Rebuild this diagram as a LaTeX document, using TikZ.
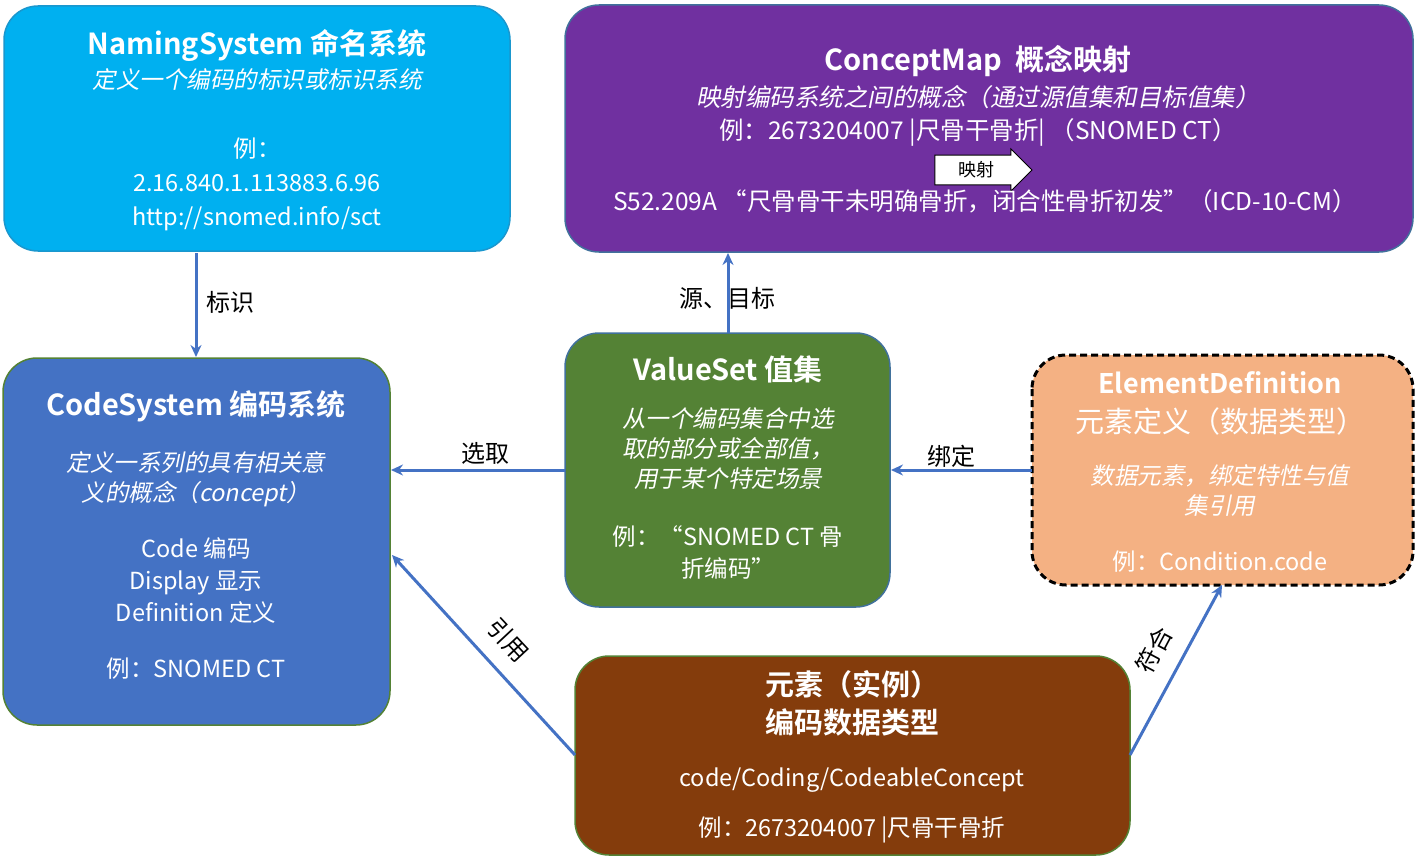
\documentclass[tikz,border=0pt]{standalone}
\usepackage{fontspec}
\setmainfont{Noto Sans CJK SC}[BoldFont={Noto Sans CJK SC Bold},ItalicFont={Noto Sans CJK SC},ItalicFeatures={FakeSlant=0.2},BoldItalicFont={Noto Sans CJK SC Bold},BoldItalicFeatures={FakeSlant=0.2}]
\usetikzlibrary{shapes.arrows,arrows.meta}
\definecolor{cyanb}{HTML}{00B0F0}
\definecolor{purp}{HTML}{7030A0}
\definecolor{blueb}{HTML}{4472C4}
\definecolor{greenb}{HTML}{548235}
\definecolor{peach}{HTML}{F4B183}
\definecolor{brown}{HTML}{843C0C}
\definecolor{edge}{HTML}{41719C}
\begin{document}
\begin{tikzpicture}[x=1pt,y=-1pt,
 box/.style={rounded corners=34pt,line width=1.5pt},
 txt/.style={align=center,font=\fontsize{23.5}{34}\selectfont,text=white},
 ttl/.style={align=center,font=\fontsize{27}{34}\selectfont\bfseries,text=white},
 conn/.style={draw=blueb,line width=3pt,-{Stealth[length=12pt,width=11pt]}},
 lab/.style={font=\fontsize{24}{26}\selectfont,text=black,inner sep=1pt}]
\useasboundingbox (0,0) rectangle (1417,859);
\draw[box,fill=cyanb,draw=edge!40!cyanb] (4,6) rectangle (510,251);
\draw[box,fill=purp,draw=edge] (565,5) rectangle (1413,252);
\draw[box,fill=blueb,draw=greenb] (3,358) rectangle (390,725);
\draw[box,fill=greenb,draw=edge] (565,333) rectangle (890,607);
\draw[box,fill=peach,draw=black,line width=3pt,dash pattern=on 7pt off 4pt] (1032,355) rectangle (1413,585);
\draw[box,fill=brown,draw=greenb] (575,656) rectangle (1130,855);
% NamingSystem
\node[ttl,font=\fontsize{29}{34}\selectfont\bfseries] (nst) at (257,45) {NamingSystem 命名系统};
\node[txt] (ns1) at (257,80) {\textit{定义一个编码的标识或标识系统}};
\node[txt] (ns) at (257,184) {例：\\ 2.16.840.1.113883.6.96\\ http://snomed.info/sct};
\node[coordinate] (nsb) at (196,253) {};
\node[coordinate] (csb) at (196,357) {};
% ConceptMap
\node[ttl,font=\fontsize{29}{34}\selectfont\bfseries] (cmt) at (978,61) {ConceptMap\ \ 概念映射};
\node[txt,font=\fontsize{24.5}{34}\selectfont] (cm1) at (978,97) {\textit{映射编码系统之间的概念（通过源值集和目标值集）}};
\node[txt,font=\fontsize{24.5}{34}\selectfont] (cm2) at (978,132) {例：2673204007 |尺骨干骨折| （SNOMED CT）};
\node[single arrow,draw=black,fill=white,line width=1pt,minimum height=97pt,minimum width=42pt,single arrow head extend=4pt,inner sep=1pt,font=\fontsize{18}{18}\selectfont,text=black] (map) at (976,170) {映射\hspace{1.2em}};
\node[txt,font=\fontsize{24.5}{34}\selectfont] (cm3) at (985,201) {S52.209A “尺骨骨干未明确骨折，闭合性骨折初发”（ICD-10-CM）};
% CodeSystem
\node[ttl,font=\fontsize{29}{34}\selectfont\bfseries] (cst) at (196,406) {CodeSystem 编码系统};
\node[txt] (cs) at (196,565) {\textit{定义一系列的具有相关意}\\[-4pt]\textit{义的概念（concept）}\\[22pt] Code 编码\\[-2pt] Display 显示\\[-2pt] Definition 定义\\[22pt] 例：SNOMED CT};
% ValueSet
\node[ttl,font=\fontsize{29}{34}\selectfont\bfseries] (vst) at (728,369) {ValueSet 值集};
\node[txt] (vs) at (728,493) {\textit{从一个编码集合中选}\\[-4pt]\textit{取的部分或全部值，}\\[-4pt]\textit{用于某个特定场景}\\[24pt] 例：“SNOMED CT 骨\\[-2pt] 折编码”};
% ElementDefinition
\node[ttl] (edt) at (1220,383) {ElementDefinition};
\node[txt,font=\fontsize{29}{34}\selectfont] (ed2) at (1220,421) {元素定义（数据类型）};
\node[txt] (ed) at (1220,518) {\textit{数据元素，绑定特性与值}\\[-4pt]\textit{集引用}\\[22pt] 例：Condition.code};
% Element
\node[ttl,font=\fontsize{29}{38}\selectfont\bfseries] (elt) at (852,703) {元素（实例）\\ 编码数据类型};
\node[txt] (el) at (852,805) {code/Coding/CodeableConcept\\[16pt] 例：2673204007 |尺骨干骨折};
% connectors
\coordinate (vsT) at (728,333); \coordinate (cmB) at (728,253);
\coordinate (vsL) at (565,470); \coordinate (csR) at (391,470);
\coordinate (edL) at (1032,470); \coordinate (vsR) at (891,470);
\coordinate (elL) at (575,755); \coordinate (csR2) at (392,555);
\coordinate (elR) at (1130,755); \coordinate (edB) at (1222,585);
\draw[conn] (nsb) -- (csb);
\node[lab] (l1) at (230,302) {标识};
\draw[conn] (vsT) -- (cmB);
\node[lab] (l2) at (727,298) {源、目标};
\draw[conn] (vsL) -- (csR);
\node[lab] (l3) at (485,453) {选取};
\draw[conn] (edL) -- (vsR);
\node[lab] (l4) at (951,456) {绑定};
\draw[conn] (elL) -- (csR2);
\node[lab,rotate=-47] (l5) at (508,640) {引用};
\draw[conn] (elR) -- (edB);
\node[lab,rotate=62] (l6) at (1154,650) {符合};
\end{tikzpicture}
\end{document}
